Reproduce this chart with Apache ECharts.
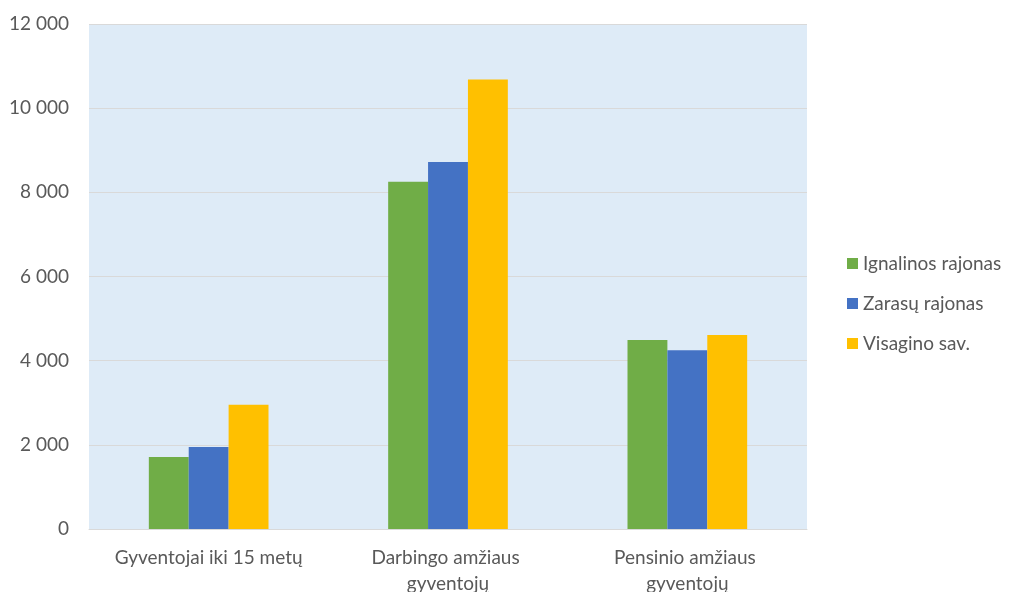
<!DOCTYPE html>
<html>
<head>
<meta charset="utf-8" />
<title>Gyventojai</title>
<script src="https://cdn.jsdelivr.net/npm/echarts@6/dist/echarts.min.js"></script>
<style>
html, body { margin: 0; padding: 0; background: #fff; }
#chart { width: 1011px; height: 592px; }
</style>
</head>
<body>
<div id="chart"></div>
<script>
var categories = ['Gyventojai iki 15 metų', 'Darbingo amžiaus gyventojų', 'Pensinio amžiaus gyventojų'];
var seriesNames = ['Ignalinos rajonas', 'Zarasų rajonas', 'Visagino sav.'];
var ignalina = [1710, 8250, 4490];
var zarasai = [1950, 8720, 4250];
var visaginas = [2950, 10680, 4610];
var colors = ['#70AD47', '#4472C4', '#FFC000'];

var font = 'Lato, "Open Sans", sans-serif';

function fmt(v) {
	return String(v).replace(/\B(?=(\d{3})+(?!\d))/g, ' ');
}

var chart = echarts.init(document.getElementById('chart'));
var option = {
	animation: false,
	textStyle: { fontFamily: font },
	grid: {
		left: 89, right: 204, top: 24, bottom: 63,
		outerBoundsMode: 'none', containLabel: false,
		show: true, backgroundColor: '#DEEBF7', borderWidth: 0
	},
	legend: {
		orient: 'vertical',
		left: 842, top: 249,
		itemWidth: 11, itemHeight: 11, itemGap: 21,
		icon: 'rect',
		textStyle: { fontSize: 19, color: '#595959', fontFamily: font },
		data: seriesNames
	},
	xAxis: {
		type: 'category',
		data: categories,
		axisLine: { show: true, lineStyle: { color: '#D9D9D9', width: 1 } },
		axisTick: { show: false },
		axisLabel: {
			interval: 0, hideOverlap: false,
			color: '#595959', fontSize: 19, margin: 16,
			width: 210, overflow: 'break', lineHeight: 26
		}
	},
	yAxis: {
		type: 'value',
		min: 0, max: 12000, interval: 2000,
		axisLine: { show: false },
		axisTick: { show: false },
		splitLine: { lineStyle: { color: '#D9D9D9', width: 1 } },
		axisLabel: { color: '#595959', fontSize: 19, margin: 20, formatter: fmt }
	},
	series: [
		{ name: seriesNames[0], type: 'bar', data: ignalina, itemStyle: { color: colors[0] }, barGap: '0%', barCategoryGap: '50%' },
		{ name: seriesNames[1], type: 'bar', data: zarasai, itemStyle: { color: colors[1] } },
		{ name: seriesNames[2], type: 'bar', data: visaginas, itemStyle: { color: colors[2] } }
	]
};
chart.setOption(option);
</script>
</body>
</html>
